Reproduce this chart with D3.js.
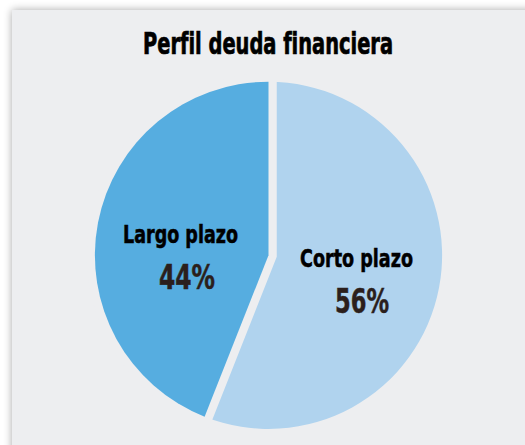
<!DOCTYPE html>
<html lang="es">
<head>
<meta charset="utf-8">
<title>Perfil deuda financiera</title>
<script src="https://d3js.org/d3.v7.min.js"></script>
<style>
 body { margin: 0; background: #fff; }
 text { font-family: "DejaVu Sans Condensed", "DejaVu Sans", sans-serif; font-stretch: condensed; font-weight: bold; }
</style>
</head>
<body>
<script>
// datos
var categorias = ["Corto plazo", "Largo plazo"];
var valores = [56, 44];
var colores = ["#b0d3ee", "#56ade0"];

var W = 525, H = 445;
var cx = 268.5, cy = 255.3, r = 173.6;
var fondo = "#edeef0";

var svg = d3.select("body").append("svg")
    .attr("width", W).attr("height", H);

// sombra del panel
var f = svg.append("defs").append("filter").attr("id", "sombra")
    .attr("x", "-5%").attr("y", "-5%").attr("width", "110%").attr("height", "110%");
f.append("feGaussianBlur").attr("in", "SourceAlpha").attr("stdDeviation", 4);
f.append("feComponentTransfer").append("feFuncA").attr("type", "linear").attr("slope", 0.35);
var fm = f.append("feMerge");
fm.append("feMergeNode");
fm.append("feMergeNode").attr("in", "SourceGraphic");

svg.append("rect")
    .attr("x", 12).attr("y", 10)
    .attr("width", W).attr("height", H)
    .attr("fill", fondo)
    .attr("filter", "url(#sombra)");

svg.append("text")
    .attr("x", 268).attr("y", 54)
    .attr("text-anchor", "middle")
    .attr("font-size", 30)
    .attr("textLength", 250)
    .attr("lengthAdjust", "spacingAndGlyphs")
    .attr("fill", "#000")
    .attr("stroke", "#000")
    .attr("stroke-width", 0.7)
    .text("Perfil deuda financiera");

var data = categorias.map(function (c, i) { return { cat: c, val: valores[i], col: colores[i] }; });

var pie = d3.pie().sort(null).value(function (d) { return d.val; });
var arc = d3.arc().innerRadius(0).outerRadius(r);

var g = svg.append("g").attr("transform", "translate(" + cx + "," + cy + ")");

// la porcion oscura se dibuja encima con un trazo del color de fondo (hueco)
g.selectAll("path")
    .data(pie(data))
    .enter()
    .append("path")
    .attr("d", arc)
    .attr("fill", function (d) { return d.data.col; })
    .attr("stroke", fondo)
    .attr("stroke-width", function (d, i) { return i === 1 ? 16.5 : 0; })
    .attr("paint-order", "stroke");

// etiquetas
var pos = { "Corto plazo": [88, 11.2, 93.5, 57.7, 113, 54], "Largo plazo": [-88, -12, -81.5, 33.7, 115, 56] };
var etiq = g.selectAll(".etq")
    .data(pie(data))
    .enter()
    .append("g");

etiq.append("text")
    .attr("x", function (d) { return pos[d.data.cat][0]; })
    .attr("y", function (d) { return pos[d.data.cat][1]; })
    .attr("text-anchor", "middle")
    .attr("font-size", 24)
    .attr("textLength", function (d) { return pos[d.data.cat][4]; })
    .attr("lengthAdjust", "spacingAndGlyphs")
    .attr("fill", "#000")
    .attr("stroke", "#000")
    .attr("stroke-width", 0.5)
    .text(function (d) { return d.data.cat; });

etiq.append("text")
    .attr("x", function (d) { return pos[d.data.cat][2]; })
    .attr("y", function (d) { return pos[d.data.cat][3]; })
    .attr("text-anchor", "middle")
    .attr("font-size", 33)
    .attr("textLength", function (d) { return pos[d.data.cat][5]; })
    .attr("lengthAdjust", "spacingAndGlyphs")
    .attr("fill", "#2b1f1c")
    .attr("stroke", "#2b1f1c")
    .attr("stroke-width", 0.5)
    .text(function (d) { return d.data.val + "%"; });
</script>
</body>
</html>
